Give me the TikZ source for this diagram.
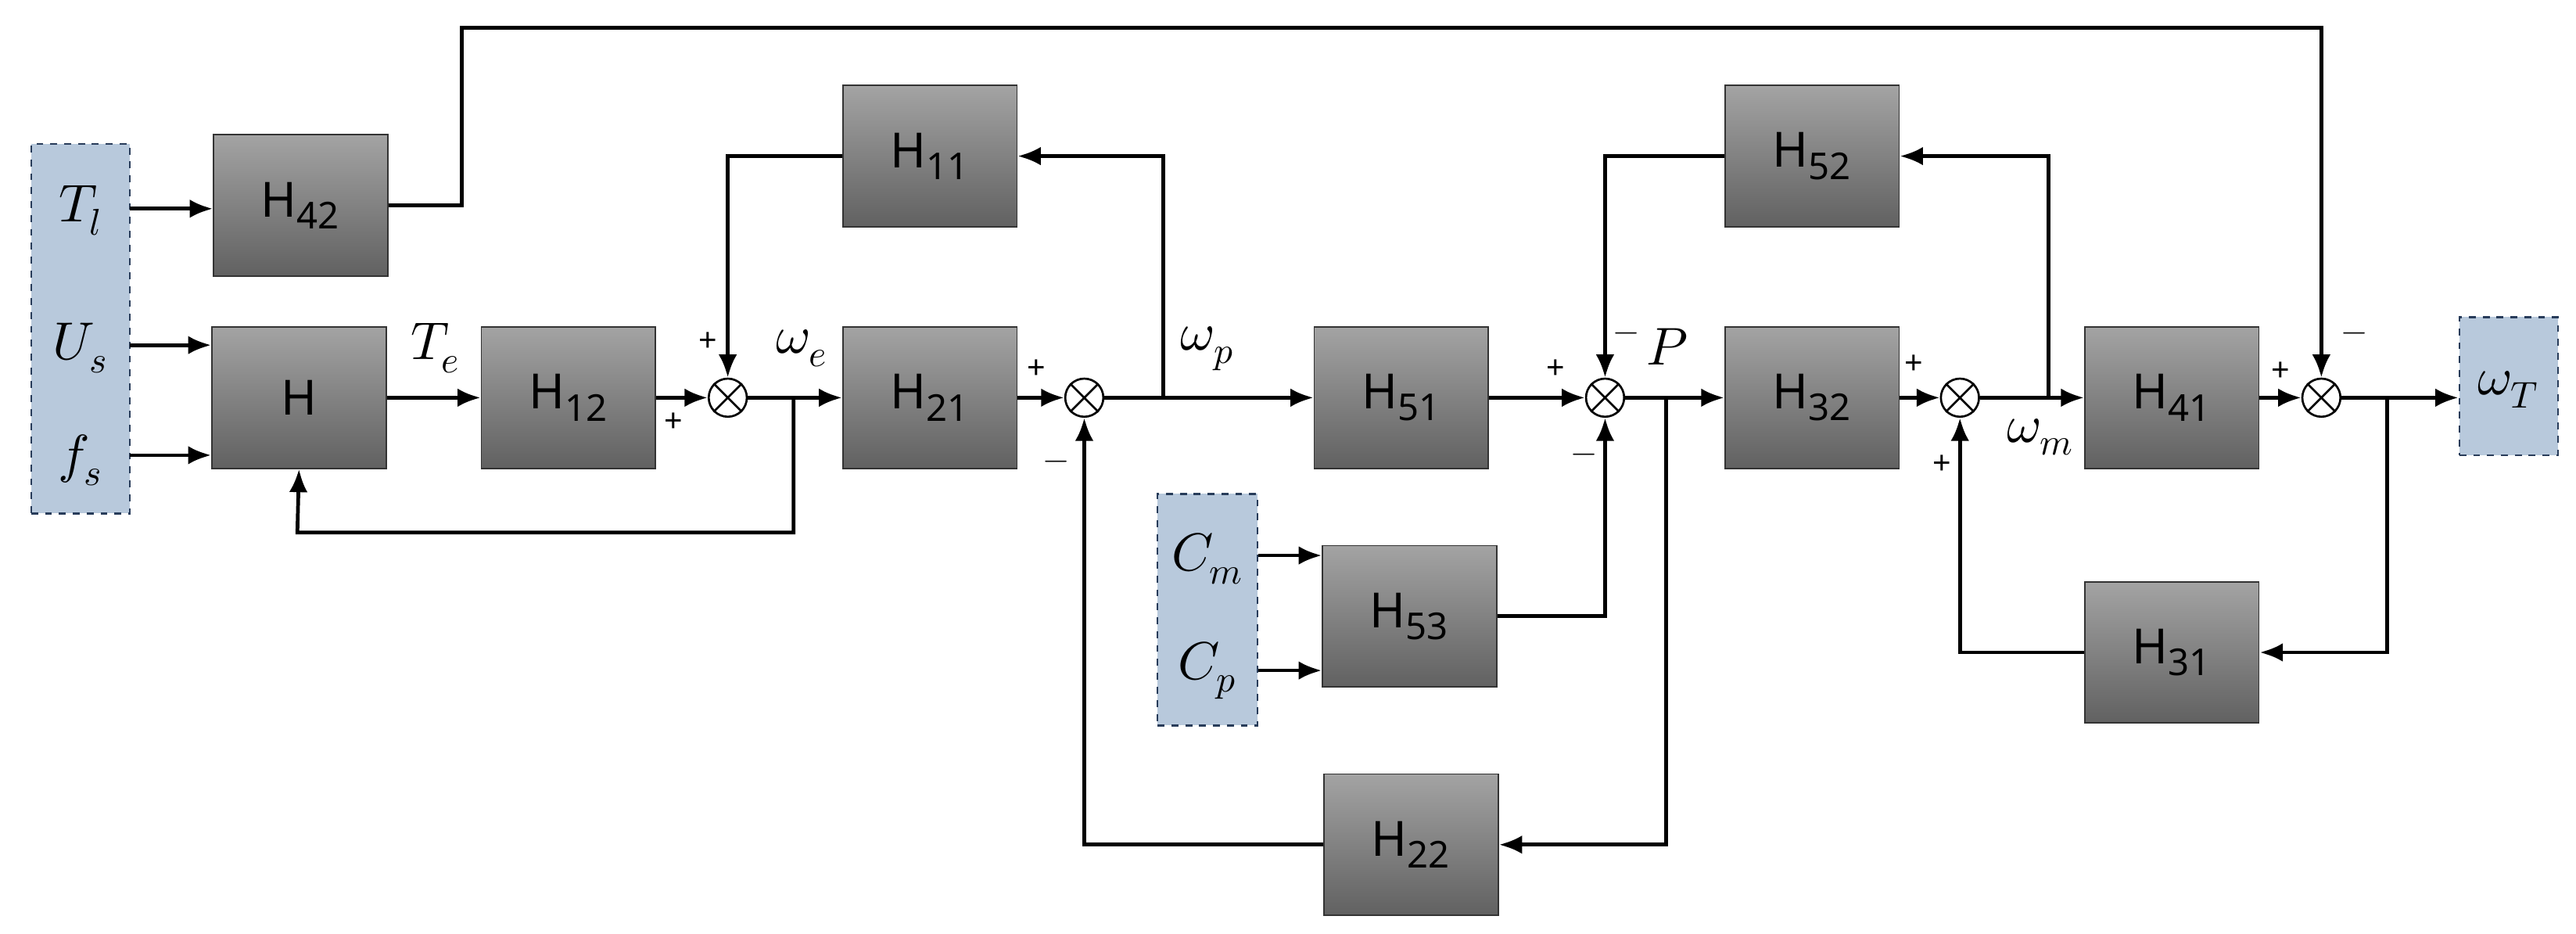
\documentclass[tikz,border=0pt]{standalone}
\usepackage{fontspec}
\setmainfont{Noto Sans}
\usepackage{unicode-math}
\setmathfont{Latin Modern Math}
\usetikzlibrary{arrows.meta}
\definecolor{inb}{RGB}{184,201,220}
\definecolor{inborder}{RGB}{40,60,90}
\newcommand{\hsub}[1]{H\textsubscript{\fontsize{16}{18}\selectfont #1}}
\begin{document}
\begin{tikzpicture}[x=0.025cm,y=-0.025cm,
 blk/.style={draw=black!80,line width=0.6pt,top color=black!36,bottom color=black!62,minimum width=2.65cm,minimum height=2.15cm,font=\fontsize{21}{24}\selectfont,inner sep=0pt},
 inp/.style={draw=inborder,dashed,line width=0.8pt,fill=inb,inner sep=0pt},
 sm/.style={draw,circle,line width=0.9pt,minimum size=0.58cm,inner sep=0pt,fill=white},
 w/.style={line width=1.6pt},
 a/.style={w,-{Latex[length=10pt,width=8pt]}},
 lab/.style={font=\fontsize{23}{28}\selectfont},
 sg/.style={font=\fontsize{14}{16}\selectfont\bfseries}]
\useasboundingbox (0,0) rectangle (1568,568);
% inputs
\node[inp,minimum width=1.5cm,minimum height=5.62cm] (in) at (49,200) {};
\node[lab] (tl) at (49,128) {$T_l$};
\node[lab] (us) at (49,212) {$U_s$};
\node[lab] (fs) at (49,280) {$f_s$};
\node[inp,minimum width=1.5cm,minimum height=2.1cm] (out) at (1527,235) {};
\node[lab] at (1527,237) {$\omega_T$};
\node[inp,minimum width=1.52cm,minimum height=3.52cm] (cc) at (735,371) {};
\node[lab] (cm) at (735,340) {$C_m$};
\node[lab] (cp) at (735,408) {$C_p$};
% blocks
\node[blk] (h42) at (183,125) {\hsub{42}};
\node[blk] (h) at (182,242) {H};
\node[blk] (h12) at (346,242) {\hsub{12}};
\node[blk] (h11) at (566,95) {\hsub{11}};
\node[blk] (h21) at (566,242) {\hsub{21}};
\node[blk] (h51) at (853,242) {\hsub{51}};
\node[blk] (h52) at (1103,95) {\hsub{52}};
\node[blk] (h32) at (1103,242) {\hsub{32}};
\node[blk] (h41) at (1322,242) {\hsub{41}};
\node[blk] (h53) at (858,375) {\hsub{53}};
\node[blk] (h31) at (1322,397) {\hsub{31}};
\node[blk] (h22) at (859,514) {\hsub{22}};
% sums
\foreach \n/\x in {s1/443,s2/660,s3/977,s4/1193,s5/1413}{
 \node[sm] (\n) at (\x,242) {};
 \draw[line width=0.9pt] (\n.north west)--(\n.south east) (\n.north east)--(\n.south west);}
% coordinates
\coordinate (b1) at (483,242);
\coordinate (b2) at (708,242);
\coordinate (b3) at (1014,242);
\coordinate (b4) at (1247,242);
\coordinate (b5) at (1453,242);
\coordinate (t1) at (281,17);
% wires
\draw[a] (79,127) -- (h42.west|-0,127);
\draw[a] (79,210) -- (h.west|-0,210);
\draw[a] (79,277) -- (h.west|-0,277);
\draw[a] (h42.east) -| (t1) -| (s5.north);
\draw[a] (h.east) -- (h12.west);
\node[lab] at (265,212) {$T_e$};
\draw[a] (h12.east) -- (s1.west);
\draw[a] (s1.east) -- (h21.west);
\node[lab] at (488,212) {$\omega_e$};
\draw[a] (b1) |- (181,324) -- (h.south);
\draw[a] (h11.west) -| (s1.north);
\draw[a] (h21.east) -- (s2.west);
\draw[a] (s2.east) -- (h51.west);
\node[lab] at (735,212) {$\omega_p$};
\draw[a] (b2) |- (h11.east);
\draw[a] (h22.west) -| (s2.south);
\draw[a] (h51.east) -- (s3.west);
\draw[a] (s3.east) -- (h32.west);
\node[lab] at (1015,211) {$P$};
\draw[a] (b3) |- (h22.east);
\draw[a] (h52.west) -| (s3.north);
\draw[a] (h53.east) -| (s3.south);
\draw[a] (766,338) -- (h53.west|-0,338);
\draw[a] (766,408) -- (h53.west|-0,408);
\draw[a] (h32.east) -- (s4.west);
\draw[a] (s4.east) -- (h41.west);
\node[lab] at (1242,266) {$\omega_m$};
\draw[a] (b4) |- (h52.east);
\draw[a] (h31.west) -| (s4.south);
\draw[a] (h41.east) -- (s5.west);
\draw[a] (s5.east) -- (out.west|-s5);
\draw[a] (b5) |- (h31.east);
% signs
\node[sg] at (431,208) {+};
\node[sg] at (410,257) {+};
\node[sg] at (631,225) {+};
\node[sg] at (643,283) {$-$};
\node[sg] at (947,225) {+};
\node[sg] at (990,205) {$-$};
\node[sg] at (964,279) {$-$};
\node[sg] at (1165,222) {+};
\node[sg] at (1182,283) {+};
\node[sg] at (1388,226) {+};
\node[sg] at (1433,205) {$-$};
\end{tikzpicture}
\end{document}
